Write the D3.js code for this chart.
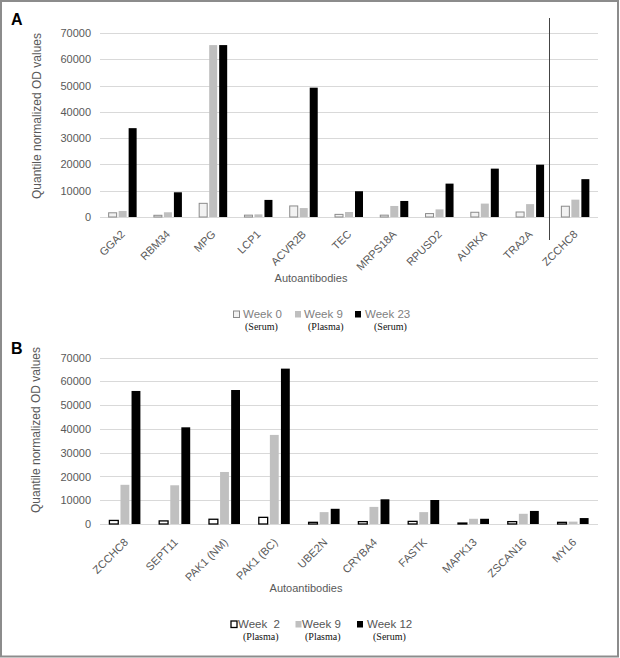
<!DOCTYPE html>
<html><head><meta charset="utf-8">
<script src="https://cdn.jsdelivr.net/npm/d3@7"></script>
<style>
html,body{margin:0;padding:0;background:#fff;}
svg{display:block;}
</style></head>
<body>
<svg id="chart" width="620" height="658"></svg>
<script>
// ---- Panel A data ----
const catsA = ["GGA2","RBM34","MPG","LCP1","ACVR2B","TEC","MRPS18A","RPUSD2","AURKA","TRA2A","ZCCHC8"];
const week0A  = [1600, 650, 5200, 700, 4200, 1000, 700, 1300, 1800, 1900, 4100];
const week9A  = [2300, 1800, 65400, 1000, 3400, 1900, 4200, 2900, 5100, 4900, 6600];
const week23A = [33800, 9400, 65400, 6500, 49200, 9800, 6100, 12700, 18400, 19900, 14400];
const legendA = ["Week 0","Week 9","Week 23"];
const legendSubA = ["(Serum)","(Plasma)","(Serum)"];

// ---- Panel B data ----
const catsB = ["ZCCHC8","SEPT11","PAK1 (NM)","PAK1 (BC)","UBE2N","CRYBA4","FASTK","MAPK13","ZSCAN16","MYL6"];
const week2B  = [1500, 1300, 2000, 2800, 700, 1000, 1100, 400, 1000, 700];
const week9B  = [16500, 16300, 21900, 37500, 5000, 7200, 5000, 2200, 4300, 1000];
const week12B = [56000, 40700, 56400, 65400, 6400, 10400, 10100, 2200, 5500, 2500];
const legendB = ["Week  2","Week 9","Week 12"];
const legendSubB = ["(Plasma)","(Plasma)","(Serum)"];

const yTicks = [0,10000,20000,30000,40000,50000,60000,70000];

const svg = d3.select("#chart");
const sans = "'Liberation Sans', Arial, sans-serif";
const serif = "'Liberation Serif', 'Times New Roman', serif";
const labelColor = "#595959";

function panel(cfg){
  const g = svg.append("g");
  const x = d3.scaleBand().domain(cfg.cats).range([100, 598]).paddingInner(0).paddingOuter(0);
  const y = d3.scaleLinear().domain([0,70000]).range([cfg.y0, cfg.y1]);
  const inner = d3.scaleBand().domain([0,1,2]).range([-cfg.gw/2, cfg.gw/2]).paddingInner(0.2).paddingOuter(0);

  // gridlines
  g.append("g").selectAll("line").data(yTicks).join("line")
    .attr("x1",100).attr("x2",598)
    .attr("y1",d=>Math.round(y(d))+0.5).attr("y2",d=>Math.round(y(d))+0.5)
    .attr("stroke","#d9d9d9").attr("stroke-width",1);

  // y axis tick labels via d3 axis
  const yAxis = d3.axisLeft(y).tickValues(yTicks).tickSize(0).tickPadding(0).tickFormat(d3.format("d"));
  const ya = g.append("g").attr("transform","translate(91,0)").call(yAxis);
  ya.select(".domain").remove();
  ya.selectAll("text").attr("font-family",sans).attr("font-size",11).attr("fill",labelColor);

  // bars
  const series = cfg.series;
  series.forEach((s,si)=>{
    g.append("g").selectAll("rect").data(s.values).join("rect")
      .attr("x",(d,i)=>x(cfg.cats[i]) + x.bandwidth()/2 + inner(si))
      .attr("width",inner.bandwidth())
      .attr("y",d=>y(d))
      .attr("height",d=>cfg.y0 - y(d))
      .attr("fill",s.fill)
      .attr("stroke",s.stroke||"none")
      .attr("stroke-width",s.sw||0);
  });

  // x labels via axis
  const xAxis = d3.axisBottom(x).tickSize(0).tickPadding(0);
  const xa = g.append("g").attr("transform",`translate(0,${cfg.y0})`).call(xAxis);
  xa.select(".domain").remove();
  xa.selectAll("text")
    .attr("font-family",sans).attr("font-size",11).attr("fill",labelColor)
    .attr("text-anchor","end").attr("dy",null).attr("y",null)
    .attr("transform",`translate(${cfg.lx},${cfg.ly}) rotate(-45)`);

  // axis titles
  g.append("text").attr("x",cfg.titleX).attr("y",cfg.titleY)
    .attr("text-anchor","middle").attr("font-family",sans).attr("font-size",11)
    .attr("fill",labelColor).text("Autoantibodies");
  g.append("text").attr("transform",`translate(${cfg.ytX},${cfg.ytY}) rotate(-90)`)
    .attr("text-anchor","middle").attr("font-family",sans).attr("font-size",12)
    .attr("fill",labelColor).text("Quantile normalized OD values");

  // panel letter
  g.append("text").attr("x",11).attr("y",cfg.letterY)
    .attr("font-family",sans).attr("font-weight",900).attr("font-size",16)
    .attr("fill","#000").text(cfg.letter);

  // legend
  const lg = g.append("g");
  cfg.legend.forEach((l,i)=>{
    const it = cfg.legendItems[i];
    lg.append("rect").attr("x",it.sx).attr("y",cfg.legY-7).attr("width",6).attr("height",6.5)
      .attr("fill",series[i].fill).attr("stroke",series[i].legStroke||"none").attr("stroke-width",series[i].legSw||0);
    lg.append("text").attr("x",it.tx).attr("y",cfg.legY).attr("font-family",sans).attr("font-size",11.5)
      .attr("fill",cfg.legColor).attr("xml:space","preserve").style("white-space","pre").text(l);
    lg.append("text").attr("x",it.subx).attr("y",cfg.legY+12).attr("font-family",serif).attr("font-size",10)
      .attr("fill","#111").text(cfg.legendSub[i]);
  });
  return {g,x,y};
}

const A = panel({
  cats: catsA, y0: 217, y1: 33, gw: 28, lx: 3, ly: 18,
  series: [
    {values: week0A, fill:"#f2f2f2", stroke:"#8a8a8a", sw:1, legStroke:"#8a8a8a", legSw:1},
    {values: week9A, fill:"#bfbfbf"},
    {values: week23A, fill:"#000000"}
  ],
  titleX: 311, titleY: 282, ytX: 41, ytY: 116, letter:"A", letterY: 25,
  legend: legendA, legendSub: legendSubA, legY: 318, legColor:"#7f7f7f",
  legendItems: [{sx:233.5,tx:243,subx:245},{sx:295,tx:304,subx:308},{sx:355,tx:365,subx:374}]
});

// separator vertical line in panel A
A.g.append("line").attr("x1",549.5).attr("x2",549.5).attr("y1",18).attr("y2",240)
  .attr("stroke","#444").attr("stroke-width",1);

panel({
  cats: catsB, y0: 524, y1: 357.7, gw: 31, lx: 4, ly: 19,
  series: [
    {values: week2B, fill:"#ffffff", stroke:"#000", sw:1.3, legStroke:"#000", legSw:1.3},
    {values: week9B, fill:"#c0c0c0"},
    {values: week12B, fill:"#000000"}
  ],
  titleX: 306, titleY: 592, ytX: 40, ytY: 430, letter:"B", letterY: 354,
  legend: legendB, legendSub: legendSubB, legY: 628, legColor:"#555",
  legendItems: [{sx:231,tx:238,subx:243},{sx:295.5,tx:302,subx:305},{sx:357,tx:367,subx:373}]
});

// outer frame
svg.append("rect").attr("x",1).attr("y",1).attr("width",617).attr("height",655.5)
  .attr("fill","none").attr("stroke","#8c8c8c").attr("stroke-width",2);
</script>
</body></html>
